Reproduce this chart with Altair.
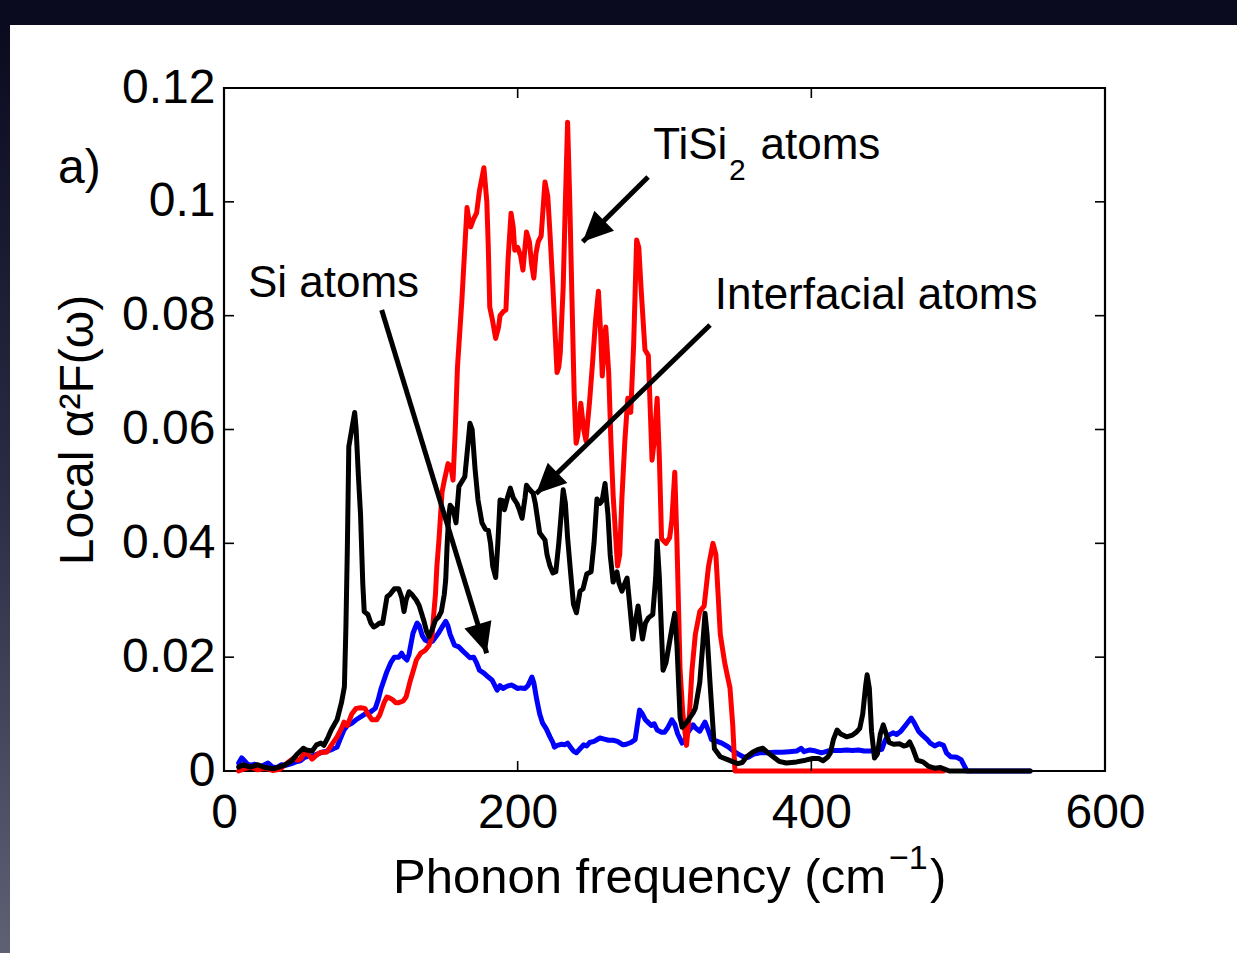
import altair as alt
import pandas as pd

# ---------------- data ----------------
si_pts = [
    (10, 0.0014), (12, 0.0023), (14, 0.0018), (16, 0.0012), (18, 0.0010), (21, 0.0012),
    (24, 0.0008), (27, 0.0010), (30, 0.0014), (33, 0.0007), (36, 0.0006), (39, 0.0011),
    (42, 0.0010), (46, 0.0013), (49, 0.0016), (52, 0.0018), (55, 0.0024), (58, 0.0026),
    (61, 0.0027), (64, 0.0030), (67, 0.0033), (70, 0.0035), (73, 0.0037), (75, 0.0040),
    (77, 0.0042), (79, 0.0055), (81.7, 0.0072), (84, 0.0080), (87, 0.0084), (90, 0.0090),
    (93, 0.0095), (96, 0.0100), (100, 0.0104), (103, 0.0110), (105, 0.0125), (107, 0.0145),
    (109, 0.0160), (111, 0.0175), (113.7, 0.0191), (116, 0.0200), (119, 0.0200), (121, 0.0207),
    (122.6, 0.0200), (124.6, 0.0195), (126, 0.0205), (128.7, 0.0242), (131.5, 0.0260),
    (133, 0.0255), (135, 0.0238), (137, 0.0230), (140, 0.0226), (142, 0.0228), (144, 0.0235),
    (146, 0.0242), (149, 0.0255), (151, 0.0263), (152.5, 0.0255), (154, 0.0240), (157, 0.0221),
    (160, 0.0218), (163, 0.0210), (165, 0.0205), (167.5, 0.0199), (170, 0.0200), (172, 0.0190),
    (174, 0.0177), (177, 0.0172), (180, 0.0165), (182.5, 0.0160), (186, 0.0142), (188, 0.0150),
    (190, 0.0145), (192, 0.0148), (194, 0.0150), (196, 0.0151), (198, 0.0148), (200, 0.0145),
    (202, 0.0146), (205, 0.0145), (207, 0.0150), (209.7, 0.0165), (211, 0.0155), (213, 0.0125),
    (215, 0.0100), (217, 0.0084), (219.5, 0.0074), (222, 0.0060), (224, 0.0050), (225, 0.0042),
    (227, 0.0045), (230, 0.0047), (232, 0.0046), (234, 0.0049), (236.5, 0.0040), (238, 0.0035),
    (240, 0.0032), (242.5, 0.0039), (245, 0.0046), (247, 0.0044), (249, 0.0050), (252, 0.0052),
    (256, 0.0058), (259, 0.0056), (262, 0.0054), (265, 0.0054), (268, 0.0052), (271.7, 0.0046),
    (274, 0.0047), (277, 0.0050), (280, 0.0055), (283, 0.0107), (285, 0.0100), (287, 0.0090),
    (289, 0.0085), (291, 0.0080), (293, 0.0083), (295, 0.0072), (298, 0.0068), (300, 0.0068),
    (302, 0.0075), (305, 0.0090), (307, 0.0082), (309, 0.0065), (312, 0.0049), (314, 0.0055),
    (316, 0.0068), (319.5, 0.0081), (321, 0.0076), (324, 0.0070), (327.6, 0.0086), (330, 0.0070),
    (332, 0.0055), (335, 0.0053), (339, 0.0049), (343, 0.0043), (347, 0.0035), (350, 0.0030),
    (353.5, 0.0025), (357, 0.0024), (361, 0.0030), (365, 0.0032), (370, 0.0032), (375, 0.0033),
    (380, 0.0033), (385, 0.0034), (390, 0.0035), (393, 0.0040), (395, 0.0034), (399, 0.0037),
    (403, 0.0035), (407, 0.0032), (411, 0.0035), (415, 0.0036), (420, 0.0036), (424, 0.0037),
    (428, 0.0036), (432, 0.0037), (436, 0.0035), (440, 0.0035), (444, 0.0036), (448, 0.0038),
    (450, 0.0052), (452, 0.0062), (455.6, 0.0067), (458, 0.0064), (461, 0.0070), (465, 0.0083),
    (468, 0.0093), (470, 0.0085), (473, 0.0070), (476, 0.0062), (479, 0.0055), (481, 0.0049),
    (484, 0.0044), (487, 0.0048), (490, 0.0045), (492, 0.0032), (495, 0.0025), (499, 0.0024),
    (502, 0.0020), (504, 0.0010), (506, 0.0), (549, 0.0),
]

tisi_pts = [
    (10, 0.0), (14, 0.0004), (18, 0.0007), (23, 0.0002), (28, 0.0005), (33, 0.0001),
    (38, 0.0003), (42, 0.0012), (45, 0.0018), (47.7, 0.0023), (50, 0.0019), (52, 0.0021),
    (55, 0.0032), (57, 0.0030), (60, 0.0021), (63, 0.0028), (66, 0.0033), (70, 0.0033),
    (73, 0.0045), (77, 0.0060), (80, 0.0075), (81.7, 0.0086), (84, 0.0080), (87, 0.0100),
    (90, 0.0110), (93, 0.0111), (96, 0.0110), (98, 0.0100), (100.8, 0.0090), (104, 0.0090),
    (106, 0.0098), (109, 0.0120), (111, 0.0130), (113, 0.0128), (115, 0.0125), (117, 0.0120),
    (119, 0.0120), (122, 0.0123), (124, 0.0130), (127, 0.0160), (129, 0.0177), (131, 0.0195),
    (134, 0.0207), (137, 0.0212), (139.5, 0.0220), (141.6, 0.0235), (143, 0.028), (144, 0.031),
    (145, 0.036), (146.4, 0.0406), (148.5, 0.049), (150, 0.051), (152.6, 0.054), (154.5, 0.0535),
    (156, 0.0511), (157.5, 0.060), (159, 0.071), (162, 0.0827), (164, 0.092), (165.5, 0.099),
    (167, 0.0965), (168, 0.0956), (170, 0.097), (172, 0.098), (174, 0.102), (177, 0.106),
    (179, 0.100), (180, 0.092), (181, 0.0815), (183, 0.079), (185, 0.076), (187, 0.078),
    (188, 0.080), (190.5, 0.0808), (192, 0.081), (193.5, 0.090), (195.5, 0.098), (197, 0.0955),
    (198, 0.0915), (200, 0.092), (202, 0.0905), (203.6, 0.088), (205, 0.092), (206, 0.0947),
    (208, 0.093), (209.5, 0.089), (211, 0.0866), (212.5, 0.091), (214, 0.093), (216, 0.094),
    (218.6, 0.1035), (220.5, 0.101), (222, 0.0945), (224, 0.085), (226.8, 0.070), (228, 0.071),
    (229, 0.0734), (231, 0.085), (232.5, 0.100), (234, 0.114), (235.5, 0.100), (237, 0.0827),
    (238.5, 0.066), (239.8, 0.0576), (241, 0.059), (243, 0.0646), (245, 0.060), (246.5, 0.058),
    (249, 0.065), (251, 0.0717), (253, 0.079), (255, 0.0843), (256.5, 0.077), (257.6, 0.0694),
    (259, 0.075), (260, 0.078), (262, 0.070), (263.5, 0.058), (265, 0.0485), (268, 0.036),
    (269.5, 0.038), (271, 0.048), (273, 0.058), (275, 0.0655), (277, 0.063), (279, 0.075),
    (281, 0.0933), (282.5, 0.092), (284, 0.085), (286.7, 0.074), (289, 0.073), (291.5, 0.0546),
    (293, 0.058), (295, 0.0655), (296.5, 0.055), (298, 0.0408), (301, 0.040), (303.5, 0.041),
    (305, 0.044), (307, 0.0525), (308.5, 0.040), (310.6, 0.0177), (312.5, 0.010), (315, 0.0045),
    (317, 0.010), (318.7, 0.0177), (321, 0.024), (324, 0.028), (327, 0.029), (330, 0.036),
    (333, 0.0400), (335, 0.038), (338, 0.0240), (341, 0.0190), (343, 0.0165), (344.6, 0.0146),
    (346.5, 0.008), (348, 0.0), (490, 0.0),
]

inter_pts = [
    (10, 0.0007), (13, 0.0011), (18, 0.0007), (23, 0.0011), (28, 0.0006), (34, 0.0004),
    (41, 0.0010), (46, 0.0018), (50, 0.0030), (54, 0.0040), (56, 0.0037), (60, 0.0035),
    (63, 0.0046), (66, 0.0049), (68, 0.0045), (71, 0.0060), (73, 0.0072), (77, 0.0090),
    (80, 0.0120), (82, 0.0148), (83, 0.025), (84, 0.039), (85, 0.057), (87, 0.060), (89, 0.063),
    (90, 0.060), (91.5, 0.052), (93, 0.045), (94.5, 0.033), (95.5, 0.028), (98, 0.0275),
    (100, 0.026), (102, 0.0253), (104, 0.0256), (106, 0.026), (108, 0.0259), (111, 0.0306),
    (113, 0.031), (116, 0.032), (119, 0.032), (121, 0.0305), (122.6, 0.028), (124, 0.030),
    (126, 0.0315), (128, 0.031), (131, 0.030), (133, 0.029), (136, 0.0265), (138, 0.0245),
    (139.6, 0.0236), (142, 0.025), (144, 0.0265), (146, 0.027), (148, 0.028), (150, 0.031),
    (151, 0.0336), (152, 0.040), (153, 0.0446), (154, 0.0467), (156, 0.046), (158, 0.0436),
    (160, 0.050), (164, 0.0517), (166, 0.057), (167.5, 0.0611), (169, 0.060), (171, 0.053),
    (173, 0.0476), (175.7, 0.0436), (178, 0.0425), (180, 0.0423), (181.5, 0.040), (183, 0.036),
    (185, 0.034), (186.5, 0.040), (188, 0.0476), (190, 0.0475), (191, 0.0459), (193, 0.048),
    (195, 0.0497), (197, 0.048), (199.5, 0.047), (201, 0.046), (203, 0.0444), (205, 0.048),
    (206, 0.0502), (208, 0.0495), (210.5, 0.0488), (212, 0.047), (215, 0.0418), (218.6, 0.0406),
    (220, 0.038), (222, 0.036), (224, 0.0348), (226, 0.035), (228, 0.040), (231, 0.0494),
    (232.5, 0.047), (234, 0.041), (236, 0.035), (238, 0.0293), (240, 0.0278), (242.5, 0.0316),
    (244.5, 0.032), (247, 0.0346), (250, 0.035), (252, 0.040), (254, 0.0478), (256, 0.047),
    (257.5, 0.0475), (259.5, 0.0505), (261.5, 0.045), (263, 0.038), (265, 0.0332), (267.6, 0.035),
    (269, 0.033), (271, 0.0316), (273, 0.033), (274.5, 0.0339), (276, 0.030), (278.5, 0.0232),
    (280, 0.026), (282, 0.0290), (283.5, 0.026), (285, 0.0232), (287, 0.026), (289, 0.0269),
    (292, 0.0275), (294, 0.034), (295, 0.0404), (296.5, 0.034), (298, 0.024), (299, 0.0177),
    (301, 0.019), (303, 0.022), (305, 0.025), (307, 0.0277), (308.5, 0.022), (310.6, 0.0095),
    (312, 0.0077), (315, 0.0085), (319.5, 0.0102), (321, 0.011), (324, 0.0155), (326, 0.022),
    (327.6, 0.0277), (329, 0.024), (331, 0.0155), (334, 0.0039), (338, 0.0025), (343, 0.0020),
    (346.7, 0.0016), (350, 0.0013), (353, 0.0015), (356, 0.0025), (360, 0.0033), (364, 0.0038),
    (367, 0.0040), (370, 0.0033), (374, 0.0025), (378, 0.0017), (383, 0.0014), (390, 0.0016),
    (396, 0.0019), (401, 0.0022), (405, 0.0022), (408, 0.0018), (411, 0.0024), (413, 0.0032),
    (415, 0.0055), (417.5, 0.0072), (420, 0.0065), (424, 0.0060), (428, 0.0063), (431, 0.0069),
    (433, 0.0075), (435, 0.0100), (437, 0.0150), (438, 0.0169), (439.5, 0.0145), (441, 0.0070),
    (443, 0.0023), (445, 0.0030), (447, 0.0065), (449, 0.0081), (451, 0.0065), (453, 0.0050),
    (456, 0.0047), (460, 0.0048), (463, 0.0044), (465, 0.0045), (467, 0.0051), (469, 0.0040),
    (472, 0.0019), (476, 0.0016), (480, 0.0008), (484, 0.0005), (488, 0.0006), (492, 0.0002),
    (494, 0.0), (549, 0.0),
]

x_ticks = [0, 200, 400, 600]
y_ticks = [0, 0.02, 0.04, 0.06, 0.08, 0.10, 0.12]

# annotation texts (data coordinates)
label_text = ["a)", "Si atoms", "TiSi", "2", "atoms", "Interfacial atoms"]
label_x = [-113, 16.3, 292.3, 343.9, 365.4, 334.2]
label_y = [0.1033, 0.0833, 0.1075, 0.1038, 0.1075, 0.0812]
label_size = [48, 44, 44, 30, 44, 44]

# x-axis title pieces (text, superscript, closing bracket)
xtitle_main = "Phonon frequency (cm"
xtitle_sup = "\u22121"
xtitle_end = ")"

# arrows: start -> tip (data coordinates), head angle (degrees, clockwise from up)
arrow_x0 = [288.8, 331.0, 107.4]
arrow_y0 = [0.10436, 0.07836, 0.0810]
arrow_x1 = [244.3, 212.5, 178.9]
arrow_y1 = [0.0930, 0.0487, 0.0207]
arrow_ang = [225.7, 225.8, 163.0]

# ---------------- chart ----------------
W, H = 881, 683
FONT = "Liberation Sans"

xs = alt.Scale(domain=[0, 600], nice=False, zero=False)
ys = alt.Scale(domain=[0, 0.12], nice=False, zero=False)

xaxis = alt.Axis(
    values=x_ticks, title=None, labelExpr="format(datum.value, 'd')",
    labelFont=FONT, labelFontSize=48, labelColor="black", labelPadding=18,
    labelFlush=False, labelOverlap=False,
    ticks=False, tickSize=0, domain=False, grid=False,
)
yaxis = alt.Axis(
    values=y_ticks, title="Local α²F(ω)",
    labelExpr="datum.value == 0 ? '0' : format(datum.value, '.2~f')",
    labelFont=FONT, labelFontSize=48, labelColor="black", labelPadding=9,
    labelFlush=False, labelOverlap=False,
    titleFont=FONT, titleFontSize=48, titleFontWeight="normal", titleColor="black",
    titleAngle=270, titleX=-132, titleY=H / 2, titleBaseline="alphabetic", titleAlign="center",
    ticks=False, tickSize=0, domain=False, grid=False,
)


def series_df(pts):
    return pd.DataFrame({"freq": [p[0] for p in pts], "val": [p[1] for p in pts]})


def curve(pts, color):
    return alt.Chart(series_df(pts)).mark_line(
        color=color, strokeWidth=5, strokeJoin="round", strokeCap="round"
    ).encode(
        x=alt.X("freq:Q", scale=xs, axis=xaxis),
        y=alt.Y("val:Q", scale=ys, axis=yaxis),
    )


# dark frame of the screenshot
one = pd.DataFrame({"k": [0]})
top_band = alt.Chart(one).mark_rect(color="#0a0b1f").encode(
    x=alt.value(-224), x2=alt.value(1013), y=alt.value(-88), y2=alt.value(-63)
)
left_grad = alt.Gradient(
    gradient="linear",
    stops=[alt.GradientStop(color="#0a0b1f", offset=0),
           alt.GradientStop(color="#2a2c44", offset=0.5),
           alt.GradientStop(color="#5e6074", offset=1)],
    x1=0, x2=0, y1=0, y2=1,
)
left_band = alt.Chart(one).mark_rect(color=left_grad).encode(
    x=alt.value(-224), x2=alt.value(-214), y=alt.value(-63), y2=alt.value(865)
)

# x-axis title built from pieces so that the superscript is large enough
xt_main = alt.Chart(one).mark_text(
    align="right", baseline="alphabetic", font=FONT, fontSize=49, color="black"
).encode(x=alt.value(662), y=alt.value(805), text=alt.value(xtitle_main))
xt_sup = alt.Chart(one).mark_text(
    align="left", baseline="alphabetic", font=FONT, fontSize=34, color="black"
).encode(x=alt.value(665), y=alt.value(781), text=alt.value(xtitle_sup))
xt_end = alt.Chart(one).mark_text(
    align="left", baseline="alphabetic", font=FONT, fontSize=49, color="black"
).encode(x=alt.value(706), y=alt.value(805), text=alt.value(xtitle_end))

# inward ticks on all four sides
xt = pd.DataFrame({"t": x_ticks})
yt = pd.DataFrame({"t": y_ticks})
tick_style = dict(color="black", strokeWidth=1.6)
ticks_bottom = alt.Chart(xt).mark_rule(**tick_style).encode(
    x=alt.X("t:Q", scale=xs, axis=xaxis), y=alt.value(H), y2=alt.value(H - 10))
ticks_top = alt.Chart(xt).mark_rule(**tick_style).encode(
    x=alt.X("t:Q", scale=xs, axis=xaxis), y=alt.value(0), y2=alt.value(10))
ticks_left = alt.Chart(yt).mark_rule(**tick_style).encode(
    y=alt.Y("t:Q", scale=ys, axis=yaxis), x=alt.value(0), x2=alt.value(10))
ticks_right = alt.Chart(yt).mark_rule(**tick_style).encode(
    y=alt.Y("t:Q", scale=ys, axis=yaxis), x=alt.value(W), x2=alt.value(W - 10))

# annotations
lab_df = pd.DataFrame({"x": label_x, "y": label_y, "text": label_text, "size": label_size})
labels = alt.Chart(lab_df).mark_text(
    align="left", baseline="alphabetic", font=FONT, color="black"
).encode(
    x=alt.X("x:Q", scale=xs, axis=xaxis),
    y=alt.Y("y:Q", scale=ys, axis=yaxis),
    text="text:N",
    size=alt.Size("size:Q", scale=None, legend=None),
)

shaft_rows = []
for i in range(len(arrow_x0)):
    shaft_rows.append({"a": i, "o": 0, "x": arrow_x0[i], "y": arrow_y0[i]})
    shaft_rows.append({"a": i, "o": 1, "x": arrow_x1[i], "y": arrow_y1[i]})
shafts = alt.Chart(pd.DataFrame(shaft_rows)).mark_line(
    color="black", strokeWidth=5, strokeCap="butt"
).encode(
    x=alt.X("x:Q", scale=xs, axis=xaxis),
    y=alt.Y("y:Q", scale=ys, axis=yaxis),
    detail="a:N",
    order="o:Q",
)
heads = alt.Chart(pd.DataFrame({"x": arrow_x1, "y": arrow_y1, "ang": arrow_ang})).mark_point(
    shape="M0,0L-0.47,1L0.47,1Z", filled=True, color="black", opacity=1, size=3600, strokeWidth=0
).encode(
    x=alt.X("x:Q", scale=xs, axis=xaxis),
    y=alt.Y("y:Q", scale=ys, axis=yaxis),
    angle=alt.Angle("ang:Q", scale=None),
)

chart = alt.layer(
    top_band, left_band, xt_main, xt_sup, xt_end,
    curve(si_pts, "#0000ff"),
    curve(tisi_pts, "#ff0000"),
    curve(inter_pts, "#000000"),
    ticks_bottom, ticks_top, ticks_left, ticks_right,
    shafts, heads, labels,
).properties(
    width=W, height=H,
    autosize=alt.AutoSizeParams(type="none"),
    padding={"left": 224, "top": 88, "right": 132, "bottom": 182},
    background="white",
).configure_view(stroke="black", strokeWidth=2.2)

chart.save("out.html", embed_options={"renderer": "svg", "actions": False})
